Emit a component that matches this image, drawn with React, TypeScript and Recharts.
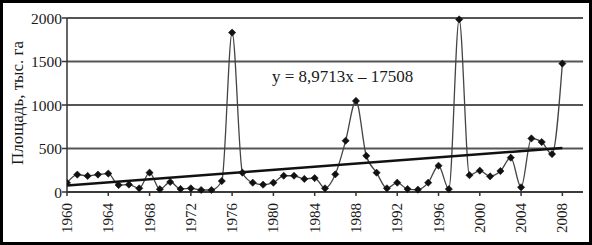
import React from 'react';
import { LineChart, Line, XAxis, YAxis, CartesianGrid } from 'recharts';

const years = [
  1960, 1961, 1962, 1963, 1964, 1965, 1966, 1967, 1968, 1969,
  1970, 1971, 1972, 1973, 1974, 1975, 1976, 1977, 1978, 1979,
  1980, 1981, 1982, 1983, 1984, 1985, 1986, 1987, 1988, 1989,
  1990, 1991, 1992, 1993, 1994, 1995, 1996, 1997, 1998, 1999,
  2000, 2001, 2002, 2003, 2004, 2005, 2006, 2007, 2008,
];

const area = [
  105, 200, 185, 200, 212, 80, 85, 42, 222, 32,
  115, 35, 42, 23, 23, 126, 1832, 222, 107, 84,
  107, 187, 187, 150, 160, 42, 203, 589, 1047, 416,
  222, 42, 107, 34, 27, 107, 302, 34, 1984, 193,
  245, 180, 241, 394, 54, 616, 574, 436, 1476,
];

// trend line end points (y = 8,9713x – 17508)
const trendYears = [1960, 2008];
const trendValues = [76, 506];

const xTicks = [1960, 1964, 1968, 1972, 1976, 1980, 1984, 1988, 1992, 1996, 2000, 2004, 2008];
const yTicks = [0, 500, 1000, 1500, 2000];
const equationText = 'y = 8,9713x – 17508';
const yLabel = 'Площадь, тыс. га';

const data = years.map((y, i) => {
  const ti = trendYears.indexOf(y);
  return { year: y, area: area[i], trend: ti >= 0 ? trendValues[ti] : null };
});

const FONT = '"Liberation Serif", "DejaVu Serif", serif';

const Diamond = (props: any) => {
  const { cx, cy } = props;
  if (cx == null || cy == null) return null;
  const r = 3.6;
  return (
    <path
      d={`M${cx},${cy - r} L${cx + r},${cy} L${cx},${cy + r} L${cx - r},${cy} Z`}
      fill="#111"
      stroke="#111"
      strokeWidth={0.6}
    />
  );
};

const XTick = (props: any) => {
  const { x, y, payload } = props;
  return (
    <text
      x={x}
      y={y}
      transform={`rotate(-90, ${x}, ${y})`}
      textAnchor="end"
      dominantBaseline="central"
      dx={-5}
      fontFamily={FONT}
      fontSize={15}
      fill="#1a1a1a"
    >
      {payload.value}
    </text>
  );
};

const YTick = (props: any) => {
  const { x, y, payload } = props;
  return (
    <text
      x={x + 2}
      y={y}
      textAnchor="end"
      dominantBaseline="central"
      fontFamily={FONT}
      fontSize={15.5}
      fill="#1a1a1a"
    >
      {payload.value}
    </text>
  );
};

export default function App() {
  return (
    <div style={{ position: 'absolute', left: 0, top: 0, width: 592, height: 245, background: '#fff' }}>
      <LineChart
        width={592}
        height={245}
        data={data}
        margin={{ top: 18, right: 9, bottom: 0, left: 22 }}
      >
        <CartesianGrid horizontal vertical={false} stroke="#555" strokeWidth={2} />
        <XAxis
          dataKey="year"
          type="number"
          domain={[1960, 2010]}
          ticks={xTicks}
          interval={0}
          height={53}
          stroke="#333"
          strokeWidth={1.5}
          tickSize={4}
          tick={<XTick />}
          allowDataOverflow
        />
        <YAxis
          domain={[0, 2000]}
          ticks={yTicks}
          width={45}
          stroke="#333"
          strokeWidth={1.5}
          tickSize={5}
          tick={<YTick />}
          interval={0}
        />
        <Line
          type="monotone"
          dataKey="area"
          stroke="#444"
          strokeWidth={1.3}
          dot={<Diamond />}
          isAnimationActive={false}
        />
        <Line
          type="linear"
          dataKey="trend"
          stroke="#111"
          strokeWidth={2.5}
          dot={false}
          connectNulls
          isAnimationActive={false}
        />
      </LineChart>
      <div
        style={{
          position: 'absolute',
          left: 272,
          top: 67,
          fontFamily: FONT,
          fontSize: 17,
          color: '#1a1a1a',
          whiteSpace: 'nowrap',
          lineHeight: '19px',
        }}
      >
        {equationText}
      </div>
      <div
        style={{
          position: 'absolute',
          left: 18,
          top: 103,
          transform: 'translate(-50%, -50%) rotate(-90deg)',
          fontFamily: FONT,
          fontSize: 17,
          color: '#1a1a1a',
          whiteSpace: 'nowrap',
          lineHeight: '20px',
        }}
      >
        {yLabel}
      </div>
      <div
        style={{
          position: 'absolute',
          left: 0,
          top: 0,
          width: 592,
          height: 245,
          boxSizing: 'border-box',
          border: '3px solid #000',
          pointerEvents: 'none',
        }}
      />
    </div>
  );
}
